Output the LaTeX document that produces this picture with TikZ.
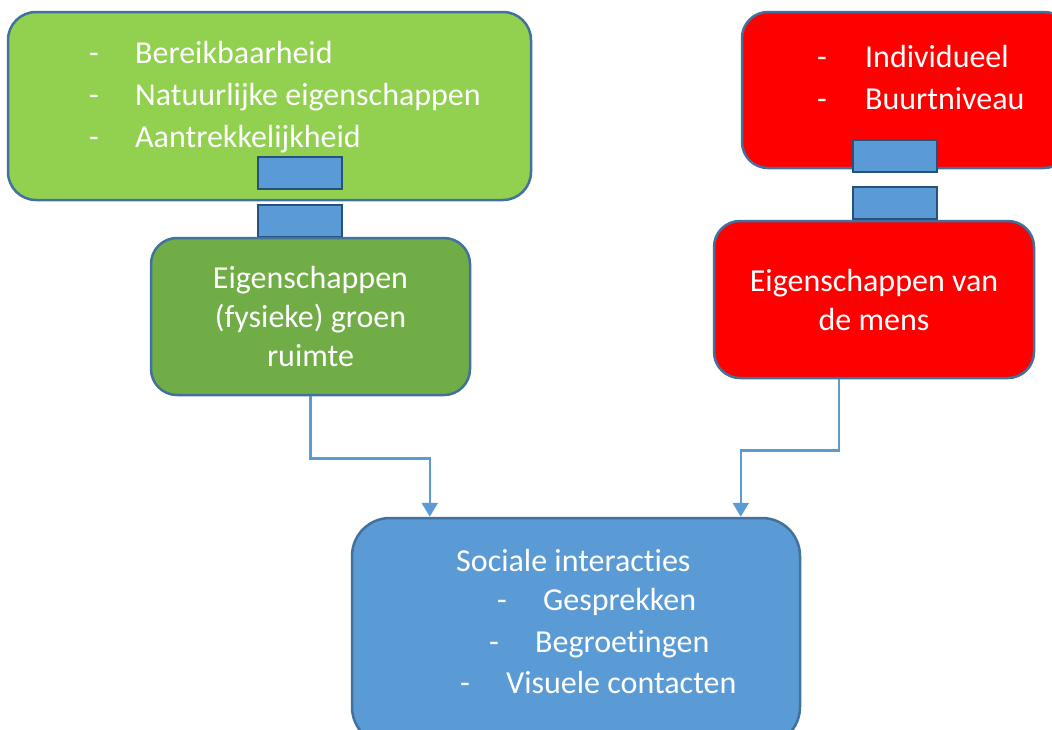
\documentclass[tikz,border=0pt]{standalone}
\usepackage{fontspec}
\setmainfont{Carlito}[Ligatures=NoCommon]
\usetikzlibrary{arrows.meta, positioning, calc}

\definecolor{lichtgroen}{HTML}{92D050}
\definecolor{donkergroen}{HTML}{70AD47}
\definecolor{rood}{HTML}{FF0000}
\definecolor{blauw}{HTML}{5B9BD5}
\definecolor{rand}{HTML}{41719C}
\definecolor{donkerrand}{HTML}{28507D}

\begin{document}
\begin{tikzpicture}[
    x=1pt,
    y=-1pt,
    >={Triangle[width=16pt,length=14pt]},
    box/.style={
      rectangle,
      draw=rand,
      line width=2.5pt,
      rounded corners=28pt,
      text=white,
      align=center,
      font=\fontsize{32}{39}\selectfont
    },
    blok/.style={
      rectangle,
      draw=donkerrand,
      fill=blauw,
      line width=2pt,
      minimum width=84pt,
      minimum height=32pt,
      inner sep=0pt
    },
    lijst/.style={anchor=base west, text=white, inner sep=0pt, font=\fontsize{32}{42}\selectfont},
    pijl/.style={->, draw=blauw, line width=2.5pt}
]
\useasboundingbox (0,0) rectangle (1052,729);
\clip (0,0) rectangle (1052,729);

% Groene ruimte (links)
\node[box, fill=lichtgroen, minimum width=523pt, minimum height=188pt] (kenmerken) at (269.5,106) {};
\node[lijst] (kenmerken-lijst) at (89,63)
  {\begin{tabular}[t]{@{}p{46pt}@{}l@{}}
   - & Bereikbaarheid\\
   - & Natuurlijke eigenschappen\\
   - & Aantrekkelijkheid
   \end{tabular}};
\node[blok] (blok1) at (299.5,173) {};
\node[blok] (blok2) at (299.5,220.5) {};
\node[box, fill=donkergroen, minimum width=319pt, minimum height=157pt, rounded corners=26pt] (groen) at (310.5,316.5)
  {Eigenschappen\\(fysieke) groen\\ruimte};

% Mens (rechts)
\node[box, fill=rood, minimum width=328pt, minimum height=156pt, rounded corners=26pt] (niveau) at (906,90) {};
\node[lijst] (niveau-lijst) at (817,67)
  {\begin{tabular}[t]{@{}p{48pt}@{}l@{}}
   - & Individueel\\
   - & Buurtniveau
   \end{tabular}};
\node[blok] (blok3) at (894.5,156) {};
\node[blok] (blok4) at (894.5,203) {};
\node[box, fill=rood, minimum width=320pt, minimum height=157pt, rounded corners=26pt] (mens) at (874,299.5)
  {Eigenschappen van\\de mens};

% Sociale interacties (onder)
\node[box, fill=blauw, minimum width=448pt, minimum height=227pt, rounded corners=38pt] (soc) at (576,631.5) {};
\node[lijst] (soc-t) at (456,571) {Sociale interacties};
\node[lijst] (soc-1) at (497,610) {\makebox[46pt][l]{-}Gesprekken};
\node[lijst] (soc-2) at (489,652) {\makebox[46pt][l]{-}Begroetingen};
\node[lijst] (soc-3) at (460,693) {\makebox[46pt][l]{-}Visuele contacten};

% Pijlen
\draw[pijl] (groen.south) -- ++(0,62) -| ($(soc.north west)+(79,0)$);
\draw[pijl] ($(mens.south)+(-35,0)$) -- ++(0,71) -| ($(soc.north west)+(390,0)$);

\end{tikzpicture}
\end{document}
